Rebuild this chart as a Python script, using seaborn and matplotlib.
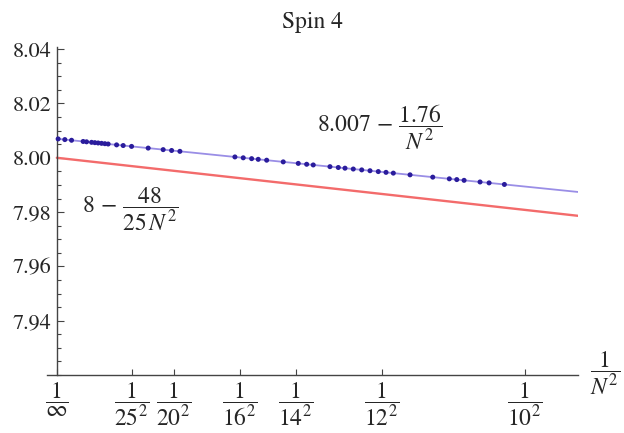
import matplotlib
matplotlib.use("Agg")
import matplotlib.pyplot as plt
import seaborn as sns
import numpy as np
import pandas as pd
from matplotlib.ticker import MultipleLocator

# ---- data ----
dots_x = [0.000028, 0.000171, 0.000314, 0.000562, 0.000635, 0.000742, 0.000812,
          0.000882, 0.000955, 0.001026, 0.001096, 0.001276, 0.001417, 0.001596,
          0.001951, 0.002271, 0.002451, 0.002628, 0.003803, 0.003981, 0.004160,
          0.004301, 0.004481, 0.004835, 0.005156, 0.005335, 0.005476, 0.005833,
          0.006011, 0.006154, 0.006331, 0.006511, 0.006688, 0.006865, 0.007030,
          0.007186, 0.007543, 0.008028, 0.008382, 0.008541, 0.008697, 0.009038,
          0.009231, 0.009558]
dots_y = [8.00695, 8.00670, 8.00645, 8.00601, 8.00588, 8.00569, 8.00557,
          8.00545, 8.00532, 8.00519, 8.00507, 8.00475, 8.00451, 8.00419,
          8.00357, 8.00300, 8.00269, 8.00237, 8.00031, 7.99999, 7.99968,
          7.99943, 7.99911, 7.99849, 7.99793, 7.99761, 7.99736, 7.99673,
          7.99642, 7.99617, 7.99586, 7.99554, 7.99523, 7.99492, 7.99463,
          7.99435, 7.99372, 7.99287, 7.99225, 7.99197, 7.99169, 7.99109,
          7.99075, 7.99018]

fit_intercept, fit_slope = 8.007, 1.76        # 8.007 - 1.76/N^2
theory_intercept, theory_slope = 8.0, 48 / 25  # 8 - 48/(25 N^2)
line_x = [0.0, 0.01113]

tick_N = [np.inf, 25, 20, 16, 14, 12, 10]
tick_labels = [r"$\dfrac{1}{\infty}$", r"$\dfrac{1}{25^{2}}$", r"$\dfrac{1}{20^{2}}$",
               r"$\dfrac{1}{16^{2}}$", r"$\dfrac{1}{14^{2}}$", r"$\dfrac{1}{12^{2}}$",
               r"$\dfrac{1}{10^{2}}$"]
y_ticks = [7.94, 7.96, 7.98, 8.00, 8.02, 8.04]
y_tick_labels = ["7.94", "7.96", "7.98", "8.00", "8.02", "8.04"]

# ---- style ----
sns.set_style("ticks")
plt.rcParams["font.family"] = ["STIXGeneral", "DejaVu Serif"]
plt.rcParams["mathtext.fontset"] = "stix"

fig = plt.figure(figsize=(6.24, 4.33), dpi=100)
ax = fig.add_axes([47 / 624, 1 - 375 / 433, (578 - 47) / 624, (375 - 47) / 433])

lx = np.array(line_x)
fit_df = pd.DataFrame({"x": lx, "y": fit_intercept - fit_slope * lx})
th_df = pd.DataFrame({"x": lx, "y": theory_intercept - theory_slope * lx})
dots_df = pd.DataFrame({"x": dots_x, "y": dots_y})

sns.lineplot(data=th_df, x="x", y="y", ax=ax, color="#f36b6b", lw=1.7)
sns.lineplot(data=fit_df, x="x", y="y", ax=ax, color="#9a8ee6", lw=1.3)
sns.scatterplot(data=dots_df, x="x", y="y", ax=ax, color="#2a1c9c", s=13,
                edgecolor="none", zorder=5)

ax.set_xlim(-0.00021, 0.01113)
ax.set_ylim(7.92, 8.0408)

for s in ["top", "right"]:
    ax.spines[s].set_visible(False)
ax.spines["left"].set_position(("data", 0))
for s in ["left", "bottom"]:
    ax.spines[s].set_color("#444444")
    ax.spines[s].set_linewidth(1.0)

ax.set_xticks([1 / n**2 for n in tick_N])
ax.set_xticklabels(tick_labels, fontsize=17)
ax.set_yticks(y_ticks)
ax.set_yticklabels(y_tick_labels, fontsize=16)
ax.yaxis.set_minor_locator(MultipleLocator(0.005))
ax.tick_params(axis="y", which="major", direction="in", length=5, width=0.8,
               color="#444444", pad=4)
ax.tick_params(axis="y", which="minor", direction="in", length=3, width=0.8,
               color="#444444")
ax.tick_params(axis="x", which="major", direction="in", length=4, width=0.8,
               color="#444444", pad=4)
ax.set_xlabel("")
ax.set_ylabel("")

ax.set_title("Spin 4", fontsize=17, pad=14)

ax.text(0.0069, 8.0112, r"$8.007\,-\,\dfrac{1.76}{N^{2}}$", fontsize=17,
        ha="center", va="center")
ax.text(0.00158, 7.981, r"$8\,-\,\dfrac{48}{25\,N^{2}}$", fontsize=17,
        ha="center", va="center")
fig.text(605 / 624, 1 - 373 / 433, r"$\dfrac{1}{N^{2}}$", fontsize=17,
         ha="center", va="center")

fig.savefig("out.png", dpi=100)
